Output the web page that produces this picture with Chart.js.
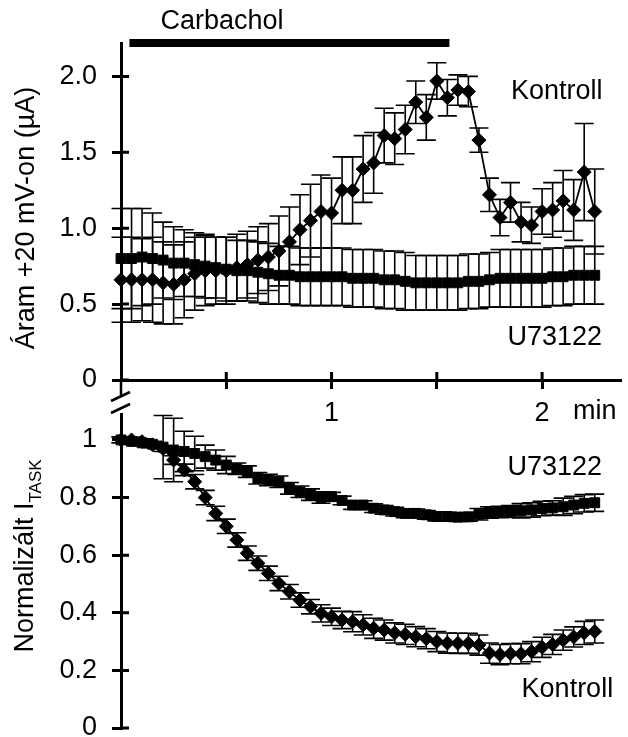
<!DOCTYPE html>
<html>
<head>
<meta charset="utf-8">
<script src="https://cdn.jsdelivr.net/npm/chart.js@4.4.1/dist/chart.umd.min.js"></script>
<style>
  html, body { margin: 0; padding: 0; background: #fff; overflow: hidden; }
  #wrap { position: relative; width: 628px; height: 737px; overflow: hidden; }
  #topChart { position: absolute; left: 0; top: 0; }
  #bottomChart { position: absolute; left: 0; top: 380px; }
</style>
</head>
<body>
<div id="wrap">
  <canvas id="topChart" width="628" height="430"></canvas>
  <canvas id="bottomChart" width="628" height="400"></canvas>
</div>
<script>
// time (min), one sample every 3 s
const times = [0, 0.05, 0.1, 0.15, 0.2, 0.25, 0.3, 0.35, 0.4, 0.45, 0.5, 0.55, 0.6, 0.65, 0.7, 0.75, 0.8, 0.85, 0.9, 0.95,
  1, 1.05, 1.1, 1.15, 1.2, 1.25, 1.3, 1.35, 1.4, 1.45, 1.5, 1.55, 1.6, 1.65, 1.7, 1.75, 1.8, 1.85, 1.9, 1.95,
  2, 2.05, 2.1, 2.15, 2.2, 2.25];

// upper panel: current at +20 mV (uA)
const topKontroll = [0.66, 0.66, 0.66, 0.66, 0.64, 0.63, 0.66, 0.70, 0.72, 0.72, 0.72, 0.74, 0.76, 0.79, 0.81, 0.85, 0.91, 0.99, 1.05, 1.11,
  1.10, 1.25, 1.25, 1.39, 1.43, 1.61, 1.59, 1.65, 1.83, 1.73, 1.97, 1.86, 1.91, 1.90, 1.58, 1.22, 1.07, 1.17, 1.04, 1.02,
  1.11, 1.12, 1.18, 1.12, 1.37, 1.11];
const topKontrollErr = [0.28, 0.28, 0.27, 0.28, 0.27, 0.26, 0.25, 0.24, 0.23, 0.22, 0.22, 0.22, 0.22, 0.22, 0.22, 0.23, 0.23, 0.23, 0.24, 0.24,
  0.23, 0.22, 0.22, 0.22, 0.20, 0.18, 0.17, 0.16, 0.14, 0.15, 0.12, 0.12, 0.10, 0.10, 0.08, 0.11, 0.12, 0.13, 0.13, 0.12,
  0.15, 0.18, 0.20, 0.20, 0.32, 0.28];
const topU = [0.80, 0.80, 0.81, 0.80, 0.79, 0.77, 0.77, 0.76, 0.75, 0.74, 0.73, 0.72, 0.72, 0.71, 0.70, 0.69, 0.69, 0.68, 0.68, 0.68,
  0.68, 0.68, 0.67, 0.67, 0.67, 0.66, 0.66, 0.65, 0.64, 0.64, 0.64, 0.64, 0.64, 0.65, 0.65, 0.66, 0.67, 0.67, 0.67, 0.67,
  0.67, 0.68, 0.68, 0.69, 0.69, 0.69];
const topUErr = [0.33, 0.33, 0.32, 0.30, 0.25, 0.24, 0.22, 0.21, 0.21, 0.20, 0.21, 0.20, 0.20, 0.20, 0.20, 0.19, 0.19, 0.19, 0.19, 0.19,
  0.19, 0.19, 0.19, 0.19, 0.19, 0.19, 0.19, 0.19, 0.18, 0.18, 0.18, 0.18, 0.18, 0.18, 0.18, 0.18, 0.19, 0.19, 0.19, 0.19,
  0.19, 0.19, 0.19, 0.19, 0.19, 0.19];

// lower panel: normalized I_TASK
const botKontroll = [1.0, 1.0, 0.994, 0.983, 0.97, 0.93, 0.896, 0.855, 0.80, 0.745, 0.70, 0.653, 0.607, 0.572, 0.537, 0.502, 0.473, 0.444, 0.421, 0.398,
  0.386, 0.375, 0.369, 0.358, 0.346, 0.34, 0.33, 0.325, 0.317, 0.31, 0.30, 0.295, 0.294, 0.294, 0.288, 0.26, 0.255, 0.258, 0.258, 0.265,
  0.28, 0.29, 0.305, 0.316, 0.33, 0.335];
const botKontrollErr = [0.01, 0.01, 0.01, 0.01, 0.01, 0.015, 0.02, 0.025, 0.025, 0.025, 0.025, 0.025, 0.025, 0.025, 0.025, 0.025, 0.025, 0.025, 0.025, 0.03,
  0.03, 0.03, 0.035, 0.035, 0.035, 0.035, 0.035, 0.035, 0.035, 0.035, 0.035, 0.035, 0.035, 0.035, 0.035, 0.035, 0.035, 0.035, 0.035, 0.035,
  0.035, 0.035, 0.035, 0.035, 0.04, 0.04];
const botU = [1.0, 0.995, 0.99, 0.985, 0.975, 0.965, 0.96, 0.953, 0.942, 0.93, 0.913, 0.90, 0.89, 0.867, 0.861, 0.855, 0.832, 0.82, 0.81, 0.80,
  0.803, 0.79, 0.774, 0.774, 0.763, 0.757, 0.751, 0.745, 0.745, 0.74, 0.734, 0.734, 0.732, 0.733, 0.742, 0.748, 0.75, 0.752, 0.754, 0.757,
  0.762, 0.764, 0.768, 0.774, 0.78, 0.782];
const botUErr = [0.01, 0.01, 0.01, 0.01, 0.11, 0.11, 0.07, 0.06, 0.04, 0.035, 0.03, 0.02, 0.02, 0.02, 0.02, 0.02, 0.02, 0.02, 0.02, 0.02,
  0.015, 0.015, 0.015, 0.015, 0.015, 0.015, 0.015, 0.015, 0.015, 0.015, 0.015, 0.015, 0.015, 0.015, 0.02, 0.02, 0.02, 0.02, 0.025, 0.025,
  0.025, 0.025, 0.03, 0.03, 0.03, 0.03];

// ticks
const timeTicks = [0.5, 1, 1.5, 2];
const timeTickLabels = ['', '1', '', '2'];
const currentTicks = [0, 0.5, 1, 1.5, 2];
const currentTickLabels = ['0', '0.5', '1.0', '1.5', '2.0'];
const normTicks = [0, 0.2, 0.4, 0.6, 0.8, 1];
const normTickLabels = ['0', '0.2', '0.4', '0.6', '0.8', '1'];

// carbachol application (min)
const carbacholStart = 0.04;
const carbacholEnd = 1.56;

Chart.defaults.font.family = '"Liberation Sans", Arial, sans-serif';
Chart.defaults.font.size = 27;
Chart.defaults.color = '#000';

const FONT = '27px "Liberation Sans", Arial, sans-serif';
const SUBFONT = '17px "Liberation Sans", Arial, sans-serif';

const series = (vals) => vals.map((v, i) => ({ x: times[i], y: v }));

// error bars drawn under the markers
const errorBars = {
  id: 'errorBars',
  beforeDatasetsDraw(chart) {
    const ctx = chart.ctx;
    const ys = chart.scales.y;
    const cap = 9.5;
    ctx.save();
    ctx.strokeStyle = '#000';
    ctx.lineWidth = 1.6;
    chart.data.datasets.forEach((ds, di) => {
      const meta = chart.getDatasetMeta(di);
      meta.data.forEach((pt, i) => {
        const v = ds.data[i].y, e = ds.errors[i];
        const yt = ys.getPixelForValue(v + e), yb = ys.getPixelForValue(v - e);
        ctx.beginPath();
        ctx.moveTo(pt.x, yt); ctx.lineTo(pt.x, yb);
        ctx.moveTo(pt.x - cap, yt); ctx.lineTo(pt.x + cap, yt);
        ctx.moveTo(pt.x - cap, yb); ctx.lineTo(pt.x + cap, yb);
        ctx.stroke();
      });
    });
    ctx.restore();
  }
};

// inner tick halves, axis break, bar, labels, axis titles
const extras = {
  id: 'extras',
  afterDraw(chart, args, opts) {
    const { ctx, chartArea } = chart;
    const xs = chart.scales.x, ys = chart.scales.y;
    const L = chartArea.left;
    ctx.save();
    ctx.strokeStyle = '#000';
    ctx.fillStyle = '#000';
    ctx.lineWidth = 3;
    ctx.beginPath();
    ys.ticks.forEach(t => {
      const p = ys.getPixelForValue(t.value);
      ctx.moveTo(L, p); ctx.lineTo(L + 8, p);
    });
    if (opts.xTicks) {
      xs.ticks.forEach(t => {
        const p = xs.getPixelForValue(t.value);
        ctx.moveTo(p, chartArea.bottom); ctx.lineTo(p, chartArea.bottom - 8);
      });
    }
    ctx.stroke();

    ctx.lineWidth = 2.5;
    ctx.beginPath();
    if (opts.breakBelow) {
      const b = chartArea.bottom;
      ctx.moveTo(L, b); ctx.lineTo(L, b + 17);
      ctx.moveTo(L - 10, b + 21); ctx.lineTo(L + 9, b + 12);
    }
    if (opts.breakAbove) {
      const t = chartArea.top;
      ctx.moveTo(L - 10, t - 1); ctx.lineTo(L + 9, t - 10);
    }
    ctx.stroke();

    if (opts.bar) {
      ctx.lineWidth = 8;
      ctx.lineCap = 'butt';
      const y = ys.getPixelForValue(opts.bar.y);
      ctx.beginPath();
      ctx.moveTo(xs.getPixelForValue(opts.bar.from), y);
      ctx.lineTo(xs.getPixelForValue(opts.bar.to), y);
      ctx.stroke();
    }

    ctx.font = FONT;
    ctx.textAlign = 'center';
    ctx.textBaseline = 'middle';
    (opts.labels || []).forEach(l => {
      ctx.fillText(l.text, xs.getPixelForValue(l.x), ys.getPixelForValue(l.y));
    });

    if (opts.title) {
      const t = opts.title;
      ctx.translate(t.x, t.y);
      ctx.rotate(-Math.PI / 2);
      ctx.textAlign = 'left';
      ctx.textBaseline = 'alphabetic';
      ctx.font = FONT;
      const wm = ctx.measureText(t.main).width;
      ctx.font = SUBFONT;
      const ws = t.sub ? ctx.measureText(t.sub).width : 0;
      const x0 = -(wm + ws) / 2;
      ctx.font = FONT;
      ctx.fillText(t.main, x0, 0);
      if (t.sub) {
        ctx.font = SUBFONT;
        ctx.fillText(t.sub, x0 + wm, 8);
      }
    }
    ctx.restore();
  }
};

const lineStyle = (data, errors, style, radius) => ({
  data, errors,
  borderColor: '#000',
  backgroundColor: '#000',
  borderWidth: 1.8,
  pointStyle: style,
  pointRadius: radius,
  pointBorderWidth: 1,
  pointBackgroundColor: '#000',
  pointBorderColor: '#000',
  tension: 0,
  clip: false
});

const axisY = (min, max, tickVals, tickLabels) => ({
  type: 'linear',
  min, max,
  afterBuildTicks: (s) => { s.ticks = tickVals.map(v => ({ value: v })); },
  afterFit: (s) => { s.width = 121; },
  ticks: { padding: 15, callback: (v, i) => tickLabels[i] },
  border: { color: '#000', width: 3 },
  grid: { drawOnChartArea: false, color: '#000', lineWidth: 3, tickLength: 9 }
});

new Chart(document.getElementById('topChart'), {
  type: 'line',
  data: {
    datasets: [
      lineStyle(series(topKontroll), topKontrollErr, 'rectRot', 7),
      lineStyle(series(topU), topUErr, 'rect', 7)
    ]
  },
  options: {
    responsive: false,
    animation: false,
    layout: { padding: { top: 43, right: 2, left: 0, bottom: 0 } },
    scales: {
      x: {
        type: 'linear',
        min: 0, max: 2.37,
        afterBuildTicks: (s) => { s.ticks = timeTicks.map(v => ({ value: v })); },
        afterFit: (s) => { s.height = 50; },
        ticks: { padding: 8, maxRotation: 0, callback: (v, i) => timeTickLabels[i] },
        border: { color: '#000', width: 3 },
        grid: { drawOnChartArea: false, color: '#000', lineWidth: 3, tickLength: 9 }
      },
      y: axisY(0, 2.22, currentTicks, currentTickLabels)
    },
    plugins: {
      legend: { display: false },
      tooltip: { enabled: false },
      extras: {
        xTicks: true,
        breakBelow: true,
        bar: { from: carbacholStart, to: carbacholEnd, y: 2.22 },
        labels: [
          { text: 'Carbachol', x: 0.48, y: 2.36 },
          { text: 'Kontroll', x: 2.07, y: 1.90 },
          { text: 'U73122', x: 2.06, y: 0.28 },
          { text: 'min', x: 2.25, y: -0.21 }
        ],
        title: { main: 'Áram +20 mV-on (µA)', x: 34, y: 218 }
      }
    }
  },
  plugins: [errorBars, extras]
});

new Chart(document.getElementById('bottomChart'), {
  type: 'line',
  data: {
    datasets: [
      lineStyle(series(botKontroll), botKontrollErr, 'rectRot', 7),
      lineStyle(series(botU), botUErr, 'rect', 7)
    ]
  },
  options: {
    responsive: false,
    animation: false,
    layout: { padding: { top: 34, right: 2, left: 0, bottom: 52 } },
    scales: {
      x: { type: 'linear', min: 0, max: 2.37, display: false },
      y: axisY(0, 1.09, normTicks, normTickLabels)
    },
    plugins: {
      legend: { display: false },
      tooltip: { enabled: false },
      extras: {
        breakAbove: true,
        labels: [
          { text: 'U73122', x: 2.06, y: 0.905 },
          { text: 'Kontroll', x: 2.12, y: 0.132 }
        ],
        title: { main: 'Normalizált I', sub: 'TASK', x: 33, y: 176 }
      }
    }
  },
  plugins: [errorBars, extras]
});
</script>
</body>
</html>
